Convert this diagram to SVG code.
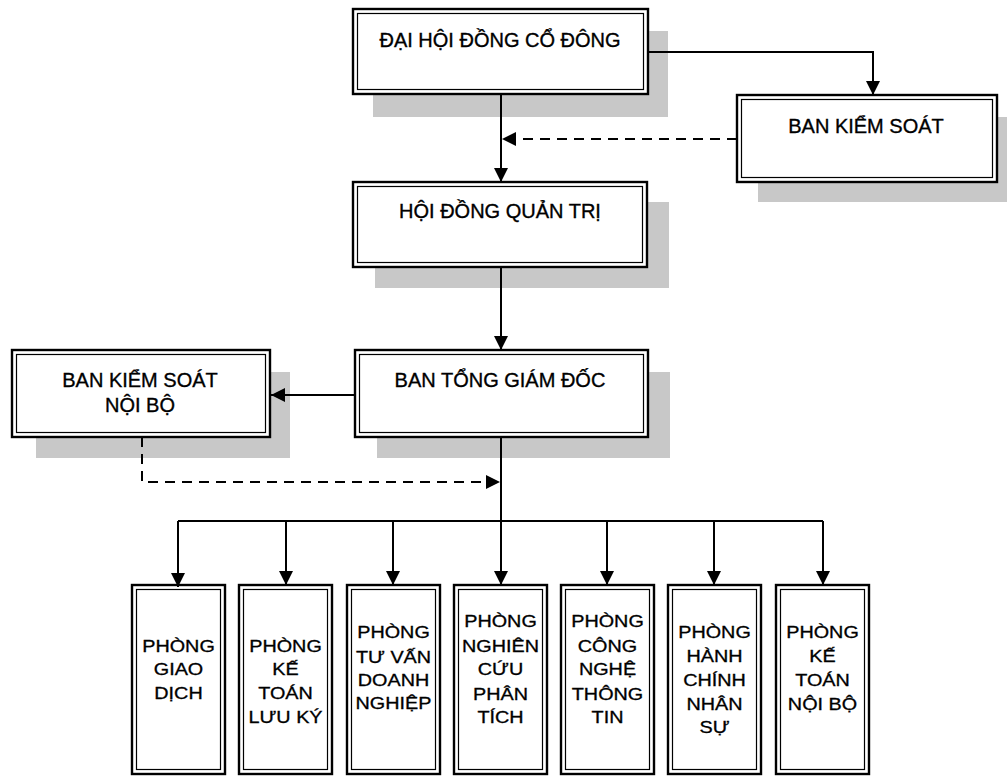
<svg xmlns="http://www.w3.org/2000/svg" width="1007" height="776" viewBox="0 0 1007 776">
<style>
.sh{fill:#c8c8c8;}
.bo{fill:#fff;stroke:#000;stroke-width:2.4;}
.bi{fill:none;stroke:#000;stroke-width:1.2;}
.t{font-family:"Liberation Sans",Arial,sans-serif;font-size:20px;fill:#000;stroke:#000;stroke-width:0.35;text-anchor:middle;}
.b{font-family:"Liberation Sans",Arial,sans-serif;font-size:16.5px;fill:#000;stroke:#000;stroke-width:0.3;text-anchor:middle;}
.c{fill:none;stroke:#000;stroke-width:2;}
.d{fill:none;stroke:#000;stroke-width:2;stroke-dasharray:10 7;}
</style>
<defs>
<marker id="ah" viewBox="0 0 14 14" refX="14" refY="7" markerWidth="14" markerHeight="14" markerUnits="userSpaceOnUse" orient="auto">
<path d="M0,0 L14,7 L0,14 z" fill="#000"/>
</marker>
</defs>
<rect width="1007" height="776" fill="#fff"/>

<g id="dhdcd">
<rect class="sh" x="373" y="31" width="295" height="86"/>
<rect class="bo" x="353" y="9" width="295" height="85"/>
<rect class="bi" x="357.5" y="13.5" width="286" height="76"/>
<text class="t" x="500" y="47">ĐẠI HỘI ĐỒNG CỔ ĐÔNG</text>
</g>

<g id="bks">
<rect class="sh" x="758" y="117" width="260" height="85"/>
<rect class="bo" x="737" y="95" width="260" height="87"/>
<rect class="bi" x="741.5" y="99.5" width="251" height="78"/>
<text class="t" x="866" y="133">BAN KIỂM SOÁT</text>
</g>

<g id="hdqt">
<rect class="sh" x="375" y="202" width="294" height="86"/>
<rect class="bo" x="353" y="182" width="294" height="85"/>
<rect class="bi" x="357.5" y="186.5" width="285" height="76"/>
<text class="t" x="500" y="218">HỘI ĐỒNG QUẢN TRỊ</text>
</g>

<g id="btgd">
<rect class="sh" x="377" y="372" width="293" height="86"/>
<rect class="bo" x="355" y="350" width="293" height="87"/>
<rect class="bi" x="359.5" y="354.5" width="284" height="78"/>
<text class="t" x="500" y="387">BAN TỔNG GIÁM ĐỐC</text>
</g>

<g id="bksnb">
<rect class="sh" x="36" y="372" width="254" height="86"/>
<rect class="bo" x="12" y="350" width="258" height="87"/>
<rect class="bi" x="16.5" y="354.5" width="249" height="78"/>
<text class="t" x="140" y="387">BAN KIỂM SOÁT</text>
<text class="t" x="140" y="412">NỘI BỘ</text>
</g>

<g id="p1">
<rect class="bo" x="132" y="585" width="93" height="189"/>
<rect class="bi" x="136.5" y="589.5" width="84" height="180"/>
<text class="b" transform="translate(178.5 0) scale(1.2 1)"><tspan x="0" y="652">PHÒNG</tspan><tspan x="0" y="675">GIAO</tspan><tspan x="0" y="699">DỊCH</tspan></text>
</g>
<g id="p2">
<rect class="bo" x="239" y="585" width="93" height="189"/>
<rect class="bi" x="243.5" y="589.5" width="84" height="180"/>
<text class="b" transform="translate(285.5 0) scale(1.2 1)"><tspan x="0" y="652">PHÒNG</tspan><tspan x="0" y="675">KẾ</tspan><tspan x="0" y="699">TOÁN</tspan><tspan x="0" y="723">LƯU KÝ</tspan></text>
</g>
<g id="p3">
<rect class="bo" x="347" y="585" width="93" height="189"/>
<rect class="bi" x="351.5" y="589.5" width="84" height="180"/>
<text class="b" transform="translate(393.5 0) scale(1.2 1)"><tspan x="0" y="638">PHÒNG</tspan><tspan x="0" y="663">TƯ VẤN</tspan><tspan x="0" y="686">DOANH</tspan><tspan x="0" y="709">NGHIỆP</tspan></text>
</g>
<g id="p4">
<rect class="bo" x="454" y="585" width="93" height="189"/>
<rect class="bi" x="458.5" y="589.5" width="84" height="180"/>
<text class="b" transform="translate(500.5 0) scale(1.2 1)"><tspan x="0" y="627">PHÒNG</tspan><tspan x="0" y="652">NGHIÊN</tspan><tspan x="0" y="675">CỨU</tspan><tspan x="0" y="700">PHÂN</tspan><tspan x="0" y="723">TÍCH</tspan></text>
</g>
<g id="p5">
<rect class="bo" x="561" y="585" width="93" height="189"/>
<rect class="bi" x="565.5" y="589.5" width="84" height="180"/>
<text class="b" transform="translate(607.5 0) scale(1.2 1)"><tspan x="0" y="627">PHÒNG</tspan><tspan x="0" y="652">CÔNG</tspan><tspan x="0" y="675">NGHỆ</tspan><tspan x="0" y="700">THÔNG</tspan><tspan x="0" y="723">TIN</tspan></text>
</g>
<g id="p6">
<rect class="bo" x="668" y="585" width="93" height="189"/>
<rect class="bi" x="672.5" y="589.5" width="84" height="180"/>
<text class="b" transform="translate(714.5 0) scale(1.2 1)"><tspan x="0" y="638">PHÒNG</tspan><tspan x="0" y="662">HÀNH</tspan><tspan x="0" y="686">CHÍNH</tspan><tspan x="0" y="710">NHÂN</tspan><tspan x="0" y="733">SỰ</tspan></text>
</g>
<g id="p7">
<rect class="bo" x="776" y="585" width="93" height="189"/>
<rect class="bi" x="780.5" y="589.5" width="84" height="180"/>
<text class="b" transform="translate(822.5 0) scale(1.2 1)"><tspan x="0" y="638">PHÒNG</tspan><tspan x="0" y="662">KẾ</tspan><tspan x="0" y="686">TOÁN</tspan><tspan x="0" y="710">NỘI BỘ</tspan></text>
</g>

<g id="connectors">
<path class="c" d="M648,52 H873 V95" marker-end="url(#ah)"/>
<path class="c" d="M501,94 V182" marker-end="url(#ah)"/>
<path class="d" d="M737,139 H502" marker-end="url(#ah)"/>
<path class="c" d="M501,267 V350" marker-end="url(#ah)"/>
<path class="c" d="M355,395 H271" marker-end="url(#ah)"/>
<path class="d" d="M142,437 V482 H500" marker-end="url(#ah)"/>
<path class="c" d="M501,437 V585" marker-end="url(#ah)"/>
<path class="c" d="M178,521 H823"/>
<path class="c" d="M178,521 V587" marker-end="url(#ah)"/>
<path class="c" d="M286,521 V585" marker-end="url(#ah)"/>
<path class="c" d="M393,521 V585" marker-end="url(#ah)"/>
<path class="c" d="M607,521 V585" marker-end="url(#ah)"/>
<path class="c" d="M714,521 V585" marker-end="url(#ah)"/>
<path class="c" d="M823,521 V585" marker-end="url(#ah)"/>
</g>
</svg>
